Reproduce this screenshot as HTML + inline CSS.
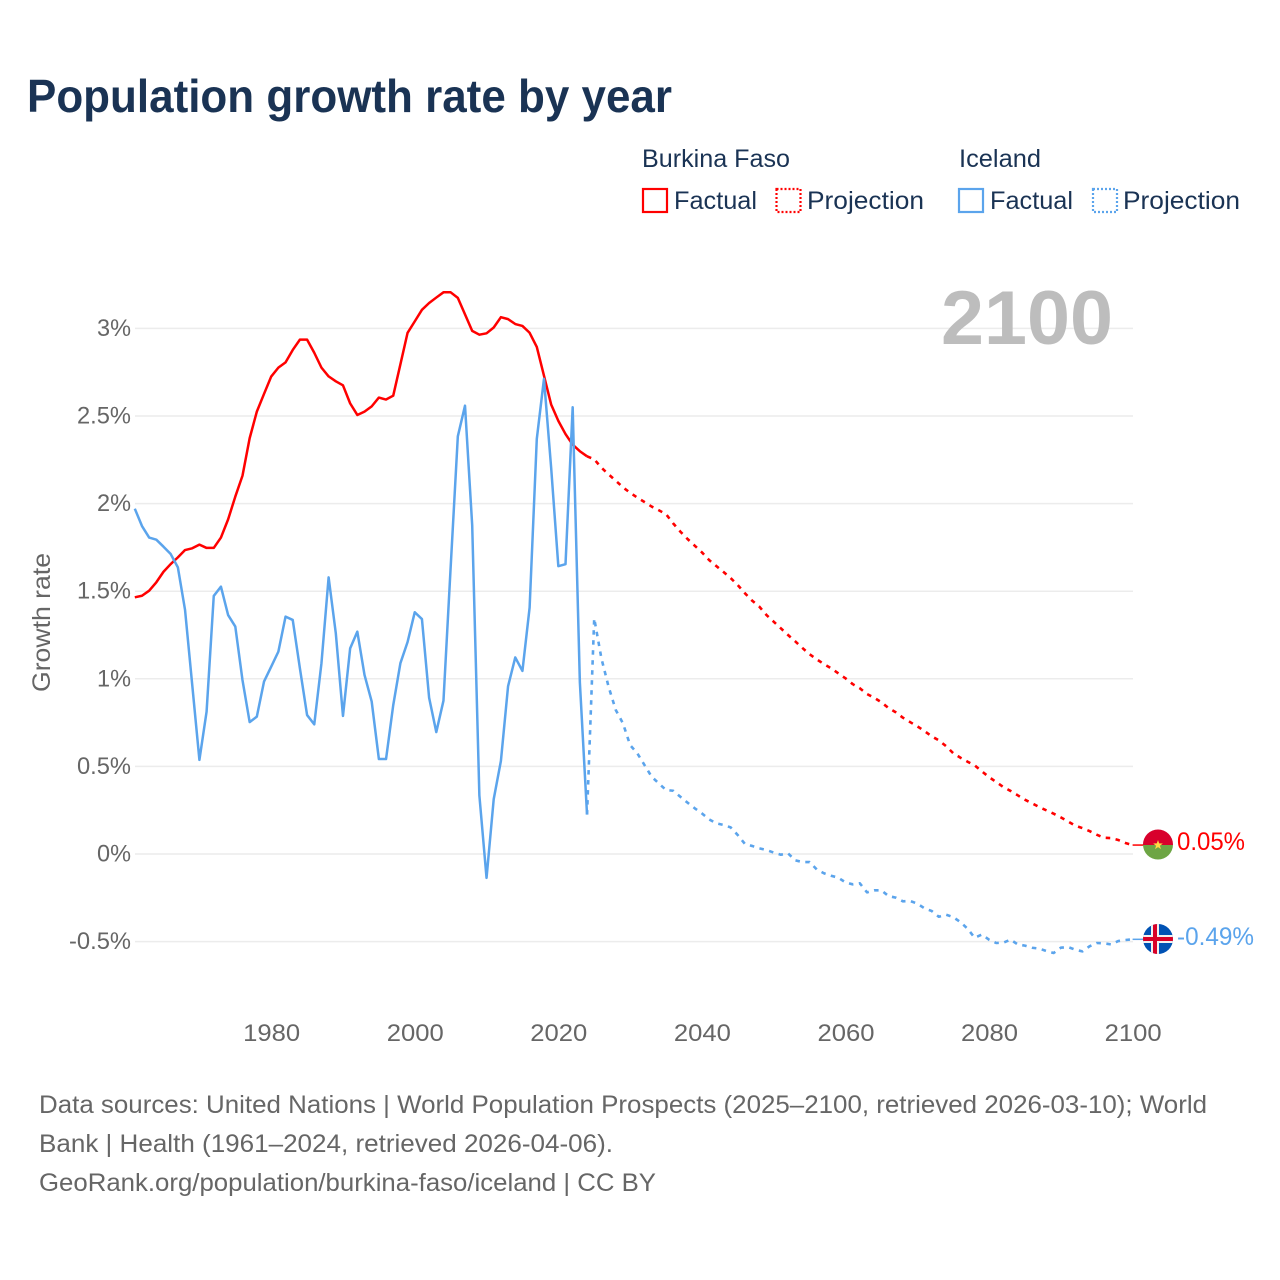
<!DOCTYPE html>
<html lang="en">
<head>
<meta charset="utf-8">
<title>Population growth rate by year</title>
<style>
html,body{margin:0;padding:0;background:#fff;}
svg{display:block;font-family:"Liberation Sans",sans-serif;}
</style>
</head>
<body>
<svg id="chart" width="1280" height="1280" viewBox="0 0 1280 1280" xmlns="http://www.w3.org/2000/svg">
  <rect width="1280" height="1280" fill="#fff"/>
  <text x="27" y="112" font-size="46" font-weight="700" fill="#1a3354" textLength="645" lengthAdjust="spacingAndGlyphs">Population growth rate by year</text>

  <g font-size="25" fill="#1a3354">
    <text x="642" y="167" textLength="148" lengthAdjust="spacingAndGlyphs">Burkina Faso</text>
    <text x="959" y="167" textLength="82" lengthAdjust="spacingAndGlyphs">Iceland</text>
    <rect x="643" y="189" width="24" height="23" fill="none" stroke="#ff0000" stroke-width="2.2"/>
    <text x="674" y="209" textLength="83" lengthAdjust="spacingAndGlyphs">Factual</text>
    <rect x="776.5" y="189" width="24" height="23" fill="none" stroke="#ff0000" stroke-width="2.2" stroke-dasharray="2 2"/>
    <text x="807" y="209" textLength="117" lengthAdjust="spacingAndGlyphs">Projection</text>
    <rect x="959" y="189" width="24" height="23" fill="none" stroke="#5ba4ec" stroke-width="2.2"/>
    <text x="990" y="209" textLength="83" lengthAdjust="spacingAndGlyphs">Factual</text>
    <rect x="1093" y="189" width="24" height="23" fill="none" stroke="#5ba4ec" stroke-width="2.2" stroke-dasharray="2 2"/>
    <text x="1123" y="209" textLength="117" lengthAdjust="spacingAndGlyphs">Projection</text>
  </g>

  <g id="grid"></g>
  <g id="y-ticks"></g>
  <g id="x-ticks"></g>

  <text x="941" y="344" font-size="76" font-weight="700" fill="#bdbdbd" textLength="172" lengthAdjust="spacingAndGlyphs">2100</text>
  <text transform="translate(50,692) rotate(-90)" font-size="25" fill="#666" textLength="139" lengthAdjust="spacingAndGlyphs">Growth rate</text>

  <g id="series"></g>

  <g>
    <clipPath id="clip-bf"><circle cx="1158" cy="844.5" r="15"/></clipPath>
    <g clip-path="url(#clip-bf)">
      <rect x="1143" y="829" width="30" height="16" fill="#d8002c"/>
      <rect x="1143" y="845" width="30" height="16" fill="#6da544"/>
    </g>
    <polygon points="1158,840 1159.2,843.4 1162.8,843.5 1159.9,845.7 1161,849.1 1158,847.1 1155,849.1 1156.1,845.7 1153.2,843.5 1156.8,843.4" fill="#ffda44"/>
  </g>
  <text id="label-bf" x="1177" y="850" font-size="25" fill="#ff0000" textLength="68" lengthAdjust="spacingAndGlyphs">0.05%</text>

  <g>
    <clipPath id="clip-is"><circle cx="1158" cy="939" r="15"/></clipPath>
    <g clip-path="url(#clip-is)">
      <rect x="1143" y="924" width="30" height="30" fill="#0052b4"/>
      <rect x="1151" y="924" width="8" height="30" fill="#f0f0f0"/>
      <rect x="1143" y="935" width="30" height="8" fill="#f0f0f0"/>
      <rect x="1153" y="924" width="4" height="30" fill="#d80027"/>
      <rect x="1143" y="937" width="30" height="4" fill="#d80027"/>
    </g>
  </g>
  <text id="label-is" x="1177" y="945" font-size="25" fill="#5ba4ec" textLength="77" lengthAdjust="spacingAndGlyphs">-0.49%</text>

  <g font-size="25" fill="#666">
    <text x="39" y="1113" textLength="1168" lengthAdjust="spacingAndGlyphs">Data sources: United Nations | World Population Prospects (2025–2100, retrieved 2026-03-10); World</text>
    <text x="39" y="1152" textLength="574" lengthAdjust="spacingAndGlyphs">Bank | Health (1961–2024, retrieved 2026-04-06).</text>
    <text x="39" y="1191" textLength="617" lengthAdjust="spacingAndGlyphs">GeoRank.org/population/burkina-faso/iceland | CC BY</text>
  </g>
</svg>

<script>
var yTicks = [3, 2.5, 2, 1.5, 1, 0.5, 0, -0.5];
var xTicks = [1980, 2000, 2020, 2040, 2060, 2080, 2100];
var factualStartYear = 1961;
var projectionStartYear = 2024;

var burkinaFactual = [
  1.465,1.474,1.503,1.551,1.611,1.655,1.693,1.735,1.745,1.766,
  1.747,1.747,1.806,1.910,2.040,2.159,2.373,2.525,2.626,2.725,
  2.776,2.806,2.877,2.936,2.936,2.861,2.776,2.726,2.698,2.675,
  2.572,2.506,2.525,2.555,2.605,2.594,2.616,2.795,2.975,3.040,
  3.106,3.145,3.176,3.206,3.206,3.174,3.080,2.986,2.964,2.972,
  3.005,3.064,3.053,3.025,3.014,2.975,2.894,2.730,2.566,2.472,
  2.397,2.336,2.299,2.270
];
var burkinaProjection = [
  2.270,2.253,2.205,2.167,2.131,2.093,2.062,2.034,2.009,1.983,
  1.962,1.940,1.887,1.840,1.798,1.760,1.722,1.678,1.644,1.610,
  1.575,1.535,1.488,1.446,1.412,1.364,1.326,1.288,1.250,1.214,
  1.176,1.140,1.111,1.084,1.060,1.031,1.003,0.970,0.946,0.913,
  0.892,0.866,0.833,0.809,0.778,0.753,0.729,0.702,0.672,0.649,
  0.616,0.576,0.550,0.527,0.506,0.472,0.439,0.411,0.382,0.360,
  0.335,0.310,0.289,0.268,0.249,0.230,0.209,0.186,0.162,0.148,
  0.131,0.110,0.093,0.091,0.080,0.063,0.051
];
var icelandFactual = [
  1.971,1.872,1.806,1.794,1.754,1.712,1.636,1.393,0.965,0.537,
  0.812,1.473,1.526,1.364,1.298,0.993,0.753,0.784,0.984,1.069,
  1.155,1.355,1.336,1.060,0.793,0.740,1.088,1.579,1.260,0.788,
  1.174,1.269,1.022,0.870,0.542,0.542,0.849,1.089,1.210,1.380,
  1.341,0.892,0.696,0.875,1.636,2.384,2.559,1.877,0.335,-0.136,
  0.313,0.531,0.958,1.122,1.045,1.406,2.369,2.712,2.205,1.643,
  1.654,2.550,0.980,0.225
];
var icelandProjection = [
  0.225,1.345,1.117,0.955,0.822,0.746,0.622,0.575,0.508,0.441,
  0.403,0.365,0.361,0.327,0.293,0.261,0.232,0.198,0.175,0.166,
  0.152,0.108,0.057,0.046,0.032,0.023,0.008,-0.004,0.004,-0.036,
  -0.046,-0.046,-0.088,-0.110,-0.124,-0.135,-0.162,-0.173,-0.167,-0.219,
  -0.207,-0.207,-0.240,-0.249,-0.270,-0.268,-0.283,-0.310,-0.325,-0.358,
  -0.346,-0.360,-0.388,-0.426,-0.478,-0.460,-0.489,-0.508,-0.506,-0.489,
  -0.516,-0.523,-0.535,-0.540,-0.554,-0.565,-0.535,-0.531,-0.546,-0.556,
  -0.527,-0.508,-0.510,-0.516,-0.497,-0.491,-0.487
];

var SVG_NS = 'http://www.w3.org/2000/svg';
var RED = '#ff0000';
var BLUE = '#5ba4ec';

function xScale(year) { return 134.8 + (year - 1961) * (1132.6 - 134.8) / 139; }
function yScale(value) { return 854 - value * 175.2; }

function labelWidth(text) {
  var w = 0;
  for (var i = 0; i < text.length; i++) {
    var c = text.charAt(i);
    w += c === '%' ? 20 : c === '.' ? 6 : c === '-' ? 8 : 14;
  }
  return w;
}

function makeLine(values, startYear, color, dashed) {
  var pts = [];
  for (var i = 0; i < values.length; i++) {
    pts.push(xScale(startYear + i).toFixed(2) + ',' + yScale(values[i]).toFixed(2));
  }
  var el = document.createElementNS(SVG_NS, 'polyline');
  el.setAttribute('points', pts.join(' '));
  el.setAttribute('fill', 'none');
  el.setAttribute('stroke', color);
  el.setAttribute('stroke-width', dashed ? '2.6' : '2.5');
  el.setAttribute('stroke-linejoin', 'round');
  if (dashed) el.setAttribute('stroke-dasharray', '4.5 5.5');
  return el;
}

function makeConnector(value, color) {
  var el = document.createElementNS(SVG_NS, 'line');
  el.setAttribute('x1', xScale(2100));
  el.setAttribute('x2', xScale(2100) + 11);
  el.setAttribute('y1', yScale(value));
  el.setAttribute('y2', yScale(value));
  el.setAttribute('stroke', color);
  el.setAttribute('stroke-width', '1.5');
  return el;
}

var gridG = document.getElementById('grid');
var yG = document.getElementById('y-ticks');
yTicks.forEach(function (v) {
  var line = document.createElementNS(SVG_NS, 'line');
  
  
  line.setAttribute('x1', 135);
  line.setAttribute('x2', 1133);
  line.setAttribute('y1', yScale(v));
  line.setAttribute('y2', yScale(v));
  line.setAttribute('stroke', '#ececec');
  line.setAttribute('stroke-width', '1.5');
  gridG.appendChild(line);

  var label = v + '%';
  var t = document.createElementNS(SVG_NS, 'text');
  
  
  t.setAttribute('x', 131 - labelWidth(label));
  t.setAttribute('y', yScale(v) + 7.5);
  t.setAttribute('font-size', '24');
  t.setAttribute('fill', '#666');
  t.setAttribute('textLength', labelWidth(label));
  t.setAttribute('lengthAdjust', 'spacingAndGlyphs');
  t.textContent = label;
  yG.appendChild(t);
});

var xG = document.getElementById('x-ticks');
xTicks.forEach(function (yr) {
  var t = document.createElementNS(SVG_NS, 'text');
  
  
  t.setAttribute('x', xScale(yr) - 28);
  t.setAttribute('y', 1041);
  t.setAttribute('font-size', '24');
  t.setAttribute('fill', '#666');
  t.setAttribute('textLength', '57');
  t.setAttribute('lengthAdjust', 'spacingAndGlyphs');
  t.textContent = yr;
  xG.appendChild(t);
});

var seriesG = document.getElementById('series');

var burkinaFactualLine = makeLine(burkinaFactual, factualStartYear, RED, false);


seriesG.appendChild(burkinaFactualLine);

var burkinaProjectionLine = makeLine(burkinaProjection, projectionStartYear, RED, true);


seriesG.appendChild(burkinaProjectionLine);

var burkinaConnector = makeConnector(burkinaProjection[burkinaProjection.length - 1], RED);


seriesG.appendChild(burkinaConnector);

var icelandFactualLine = makeLine(icelandFactual, factualStartYear, BLUE, false);


seriesG.appendChild(icelandFactualLine);

var icelandProjectionLine = makeLine(icelandProjection, projectionStartYear, BLUE, true);


seriesG.appendChild(icelandProjectionLine);

var icelandConnector = makeConnector(icelandProjection[icelandProjection.length - 1], BLUE);


seriesG.appendChild(icelandConnector);
</script>
</body>
</html>
